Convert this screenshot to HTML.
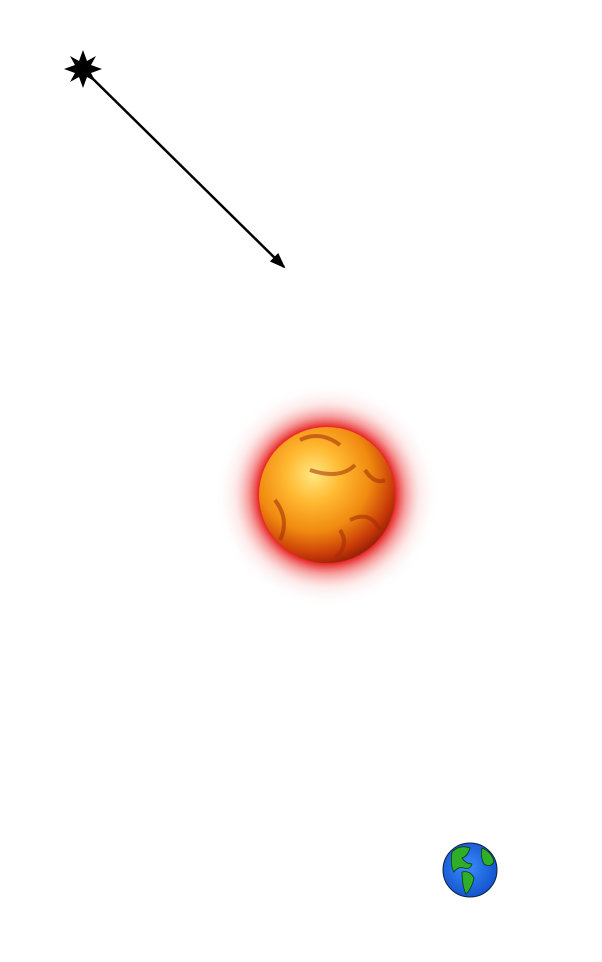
<!DOCTYPE html>
<html><head><meta charset="utf-8"><style>
html,body{margin:0;padding:0;background:#fff;width:602px;height:962px;overflow:hidden}
</style></head><body>
<svg width="602" height="962" viewBox="0 0 602 962">
<defs>
<radialGradient id="glow" cx="0.5" cy="0.5" r="0.5">
<stop offset="0.6" stop-color="#e41818" stop-opacity="1"/>
<stop offset="0.7" stop-color="#ef4a4a" stop-opacity="0.55"/>
<stop offset="0.82" stop-color="#f8a8a8" stop-opacity="0.25"/>
<stop offset="1" stop-color="#ffffff" stop-opacity="0"/>
</radialGradient>
<radialGradient id="sun" cx="0.4" cy="0.35" r="0.7">
<stop offset="0" stop-color="#ffe880"/>
<stop offset="0.3" stop-color="#ffb830"/>
<stop offset="0.6" stop-color="#f08a10"/>
<stop offset="0.85" stop-color="#c83a08"/>
<stop offset="1" stop-color="#8a1a05"/>
</radialGradient>
<radialGradient id="earth" cx="0.45" cy="0.45" r="0.6">
<stop offset="0" stop-color="#3a8cff"/>
<stop offset="1" stop-color="#1050c8"/>
</radialGradient>
<marker id="ah" markerWidth="16" markerHeight="12" refX="14" refY="6" orient="auto" markerUnits="userSpaceOnUse">
<path d="M0,0 L16,6 L0,12 Z" fill="#000"/>
</marker>
</defs>
<polygon fill="#000"
points="83,50 87,61 96,56 91,65 102,69 91,73 96,82 87,77 83,88 79,77 70,82 75,73 64,69 75,65 70,56 79,61"/>
<line x1="90" y1="76" x2="284" y2="267" stroke="#000" stroke-width="2.5" marker-end="url(#ah)"/>
<circle cx="327" cy="495" r="112" fill="url(#glow)"/>
<circle cx="327" cy="495" r="68" fill="url(#sun)"/>
<path d="M300,440 q20,-10 40,5 M275,500 q15,20 5,40 M350,520 q20,-10 30,10 M310,470 q30,10 45,-5 M340,530 q10,15 -5,28 M365,470 q10,15 20,10" stroke="#a02a08" stroke-width="4" fill="none" opacity="0.55"/>
<circle cx="470" cy="870" r="27" fill="url(#earth)" stroke="#102040" stroke-width="1"/>
<path d="M452,852 q8,-8 18,-4 q-2,8 -8,10 q4,6 10,6 q-2,6 -8,4 q-6,-2 -10,4 q-4,-6 -2,-20 Z M462,872 q8,-2 12,6 q-2,10 -8,16 q-4,-8 -4,-22 Z M482,848 q10,4 12,14 q-4,6 -10,2 q-4,-8 -2,-16 Z" fill="#2fae2a" stroke="#0a3a0a" stroke-width="0.8"/>
</svg>
</body></html>
